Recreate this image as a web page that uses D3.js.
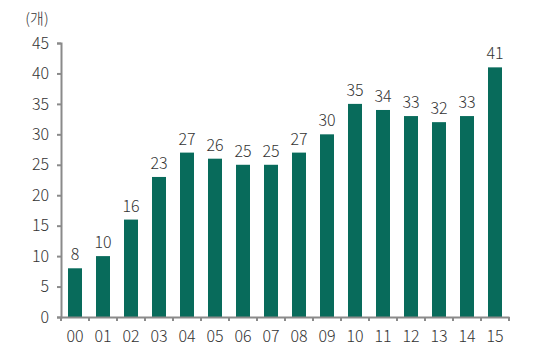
<!DOCTYPE html>
<html>
<head>
<meta charset="utf-8">
<script src="https://cdn.jsdelivr.net/npm/d3@7"></script>
<style>
  body { margin: 0; background: #fff; }
  text { font-family: "Noto Sans CJK KR", "Noto Sans", sans-serif; font-weight: 300; fill: #333; }
</style>
</head>
<body>
<div id="chart-area"></div>
<script>
const years = ['00', '01', '02', '03', '04', '05', '06', '07', '08', '09', '10', '11', '12', '13', '14', '15'];
const counts = [8, 10, 16, 23, 27, 26, 25, 25, 27, 30, 35, 34, 33, 32, 33, 41];
const yTicks = [0, 5, 10, 15, 20, 25, 30, 35, 40, 45];

const margin = {left: 61, right: 31, top: 43, bottom: 36};
const width = 540 - margin.left - margin.right,
    height = 353 - margin.top - margin.bottom;

const svg = d3.select('#chart-area')
    .append('svg')
    .attr('width', 540)
    .attr('height', 353);

const g = svg.append('g')
    .attr('transform', 'translate(' + margin.left + ', ' + margin.top + ')');

const xScale = d3.scaleBand()
    .domain(years)
    .range([0, width])
    .paddingInner(0.5)
    .paddingOuter(0.25);

const yScale = d3.scaleLinear()
    .domain([0, 45])
    .range([height, 0]);

// bars
g.selectAll('rect.bar')
    .data(counts)
    .enter()
    .append('rect')
    .attr('class', 'bar')
    .attr('x', (d, i) => xScale(years[i]))
    .attr('y', d => yScale(d))
    .attr('width', xScale.bandwidth())
    .attr('height', d => height - yScale(d))
    .attr('fill', '#086b5b');

// value labels
g.selectAll('text.val')
    .data(counts)
    .enter()
    .append('text')
    .attr('class', 'val')
    .attr('x', (d, i) => xScale(years[i]) + xScale.bandwidth() / 2)
    .attr('y', d => yScale(d) - 8)
    .attr('text-anchor', 'middle')
    .attr('font-size', '16px')
    .text(d => d);

// y axis
const yAxis = g.append('g')
    .call(d3.axisLeft(yScale).tickValues(yTicks).tickSize(4).tickPadding(8));
yAxis.selectAll('text').attr('font-size', '16px').style('fill', '#333');

// x axis with ticks at band edges
const xAxis = g.append('g')
    .attr('transform', 'translate(0, ' + height + ')')
    .call(d3.axisBottom(xScale).tickSize(0).tickPadding(14));
xAxis.selectAll('text').attr('font-size', '16px').style('fill', '#333');

const step = xScale.step();
xAxis.selectAll('line.edge')
    .data(d3.range(years.length + 1))
    .enter()
    .append('line')
    .attr('class', 'edge')
    .attr('x1', i => i * step)
    .attr('x2', i => i * step)
    .attr('y1', 0)
    .attr('y2', 4);

svg.selectAll('.domain, .tick line, line.edge')
    .attr('stroke', '#8a8a8a')
    .attr('stroke-width', 2);

// unit label
svg.append('text')
    .attr('x', 37)
    .attr('y', 24)
    .attr('text-anchor', 'middle')
    .attr('font-size', '15px')
    .text('(개)');
</script>
</body>
</html>
